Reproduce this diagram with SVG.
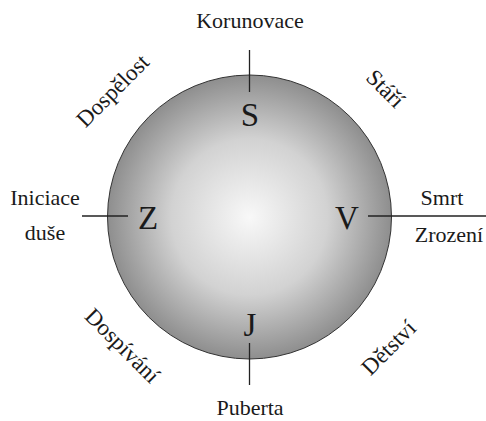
<svg xmlns="http://www.w3.org/2000/svg" width="486" height="421" viewBox="0 0 486 421">
<style>
text{font-family:"Liberation Serif","DejaVu Serif",serif;fill:#1a1a1a}
.lbl{font-size:22px}
.rot{font-size:23px}
.big{font-size:33px}
.ln{stroke:#222;stroke-width:1.3;fill:none}
</style>
<defs>
<radialGradient id="g" cx="0.5" cy="0.5" r="0.5">
<stop offset="0" stop-color="#f8f8f8"/>
<stop offset="0.55" stop-color="#d2d2d2"/>
<stop offset="1" stop-color="#8e8e8e"/>
</radialGradient>
</defs>
<rect width="486" height="421" fill="#fff"/>
<g id="circle">
<circle cx="249.5" cy="217" r="142" fill="url(#g)" stroke="#333" stroke-width="1"/>
<text class="big" x="250" y="126" text-anchor="middle">S</text>
<text class="big" x="148" y="229" text-anchor="middle">Z</text>
<text class="big" x="347" y="229" text-anchor="middle">V</text>
<text class="big" x="250" y="336" text-anchor="middle">J</text>
</g>
<g id="connectors">
<line class="ln" x1="249.5" y1="50" x2="249.5" y2="92"/>
<line class="ln" x1="249.5" y1="343" x2="249.5" y2="385"/>
<line class="ln" x1="82" y1="216" x2="128" y2="216"/>
<line class="ln" x1="368" y1="216" x2="486" y2="216"/>
</g>
<g id="korunovace"><text class="lbl" x="250" y="28" text-anchor="middle">Korunovace</text></g>
<g id="puberta"><text class="lbl" x="250" y="415" text-anchor="middle">Puberta</text></g>
<g id="iniciace"><text class="lbl" x="45" y="205" text-anchor="middle">Iniciace</text><text class="lbl" x="45" y="240" text-anchor="middle">duše</text></g>
<g id="smrt"><text class="lbl" x="442" y="205" text-anchor="middle">Smrt</text><text class="lbl" x="449" y="242" text-anchor="middle">Zrození</text></g>
<g id="dospelost"><text class="rot" text-anchor="middle" transform="translate(118,96) rotate(-45)">Dospělost</text></g>
<g id="stari"><text class="rot" text-anchor="middle" transform="translate(380,94) rotate(45)">Stáří</text></g>
<g id="dospivani"><text class="rot" text-anchor="middle" transform="translate(117,351) rotate(45)">Dospívání</text></g>
<g id="detstvi"><text class="rot" text-anchor="middle" transform="translate(394,353) rotate(-45)">Dětství</text></g>
</svg>
